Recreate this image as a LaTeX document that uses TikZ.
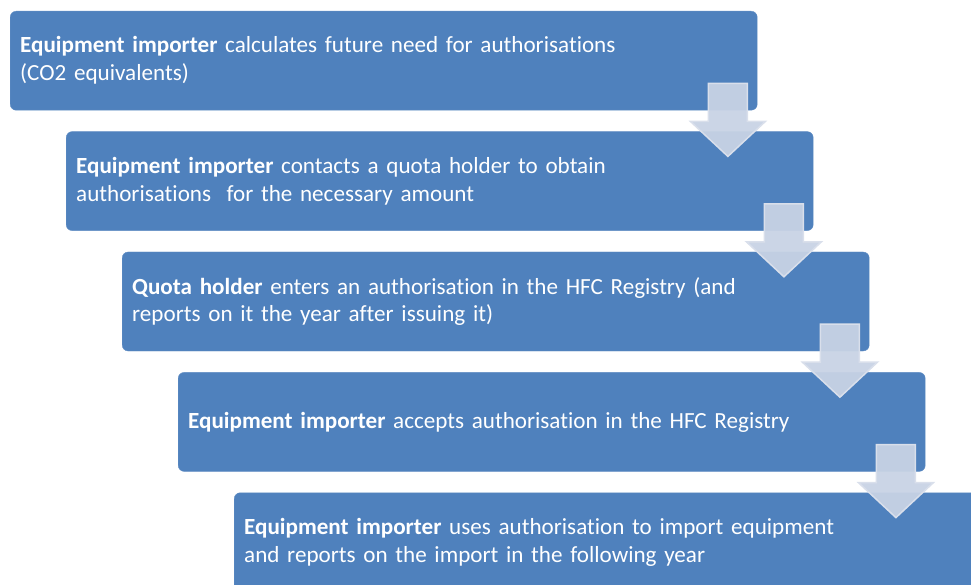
\documentclass[tikz,border=0pt]{standalone}
\usepackage{fontspec}
\setmainfont{Carlito}[Ligatures=NoCommon]
\usepackage{xcolor}
\definecolor{boxblue}{RGB}{79, 129, 189}
\definecolor{arrowfill}{RGB}{200, 211, 229}
\definecolor{arrowedge}{RGB}{217, 223, 235}
\usetikzlibrary{positioning, calc}

\begin{document}
\begin{tikzpicture}[
    x=1bp, y=-1bp,
    stepbox/.style={rectangle, draw=boxblue!90!white, fill=boxblue,
                  minimum width=747bp, minimum height=99bp, text width=727bp,
                  inner xsep=10bp, align=left, rounded corners=6bp,
                  text=white, font=\fontsize{23.2}{28}\selectfont},
    flowarr/.style={fill=arrowfill, draw=arrowedge, line width=1.5bp, fill opacity=0.95}
]
    \clip (0,0) rectangle (971,585);

    % Steps
    \node[stepbox, anchor=north west] (b1) at (10,11)
        {\textbf{Equipment importer} calculates future need for authorisations\\(CO2 equivalents)};
    \node[stepbox, below=21bp of b1.south west, anchor=north west, xshift=56bp] (b2)
        {\textbf{Equipment importer} contacts a quota holder to obtain\\authorisations \ for the necessary amount};
    \node[stepbox, below=21bp of b2.south west, anchor=north west, xshift=56bp] (b3)
        {\textbf{Quota holder} enters an authorisation in the HFC Registry (and\\reports on it the year after issuing it)};
    \node[stepbox, below=21bp of b3.south west, anchor=north west, xshift=56bp] (b4)
        {\textbf{Equipment importer} accepts authorisation in the HFC Registry};
    \node[stepbox, below=21bp of b4.south west, anchor=north west, xshift=56bp] (b5)
        {\textbf{Equipment importer} uses authorisation to import equipment\\and reports on the import in the following year};

    % Arrows
    \foreach \a in {b1, b2, b3, b4}
        \draw[flowarr] ($(\a.south east)+(-49,-27)$) -- ++(39,0) -- ++(0,38) -- ++(18,0)
            -- ++(-37.5,35) -- ++(-37.5,-35) -- ++(18,0) -- cycle;
\end{tikzpicture}
\end{document}
